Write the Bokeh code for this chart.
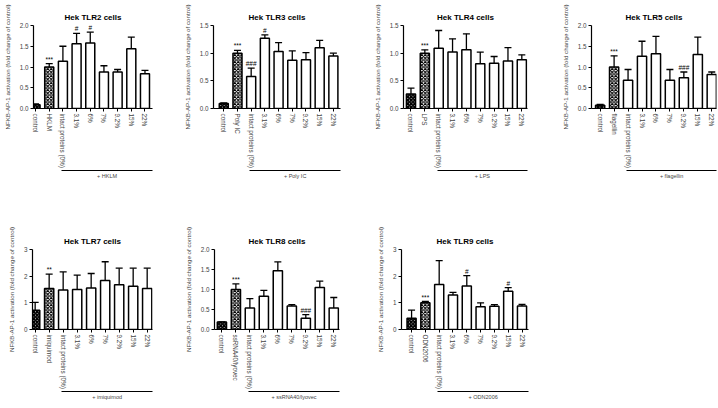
from bokeh.plotting import figure
from bokeh.models import (Range1d, FixedTicker, LinearAxis, Whisker, TeeHead,
                          ColumnDataSource, PrintfTickFormatter)
from bokeh.core.properties import value
from bokeh.layouts import row, column
from bokeh.embed import file_html
from bokeh.resources import INLINE

# ---------------- data ----------------
common_labels = ["intact proteins (0%)", "3.1%", "6%", "7%", "9.2%", "15%", "22%"]
y_label = "NFKB-AP-1 activation (fold change of control)"

tlr2_mean = [0.09, 1.00, 1.14, 1.56, 1.58, 0.88, 0.88, 1.44, 0.84]
tlr2_err = [0.02, 0.08, 0.36, 0.25, 0.26, 0.15, 0.06, 0.28, 0.08]
tlr2_sig = ["", "***", "", "#", "#", "", "", "", ""]

tlr3_mean = [0.09, 1.00, 0.58, 1.27, 1.03, 0.87, 0.88, 1.10, 0.95]
tlr3_err = [0.01, 0.05, 0.15, 0.06, 0.16, 0.17, 0.13, 0.13, 0.05]
tlr3_sig = ["", "***", "###", "#", "", "", "", "", ""]

tlr4_mean = [0.26, 1.00, 1.09, 1.02, 1.06, 0.81, 0.82, 0.86, 0.88]
tlr4_err = [0.11, 0.06, 0.32, 0.24, 0.29, 0.21, 0.12, 0.24, 0.09]
tlr4_sig = ["", "***", "", "", "", "", "", "", ""]

tlr5_mean = [0.08, 1.00, 0.68, 1.26, 1.32, 0.68, 0.74, 1.30, 0.82]
tlr5_err = [0.02, 0.27, 0.26, 0.36, 0.42, 0.26, 0.14, 0.42, 0.06]
tlr5_sig = ["", "***", "", "", "", "", "###", "", ""]

tlr7_mean = [0.72, 1.54, 1.48, 1.50, 1.56, 1.84, 1.68, 1.62, 1.54]
tlr7_err = [0.30, 0.54, 0.68, 0.54, 0.54, 0.70, 0.62, 0.68, 0.76]
tlr7_sig = ["", "**", "", "", "", "", "", "", ""]

tlr8_mean = [0.19, 1.00, 0.54, 0.83, 1.47, 0.59, 0.28, 1.05, 0.54]
tlr8_err = [0.00, 0.14, 0.23, 0.15, 0.22, 0.03, 0.09, 0.16, 0.26]
tlr8_sig = ["", "***", "", "", "", "", "###", "", ""]

tlr9_mean = [0.42, 1.00, 1.69, 1.29, 1.63, 0.85, 0.87, 1.43, 0.88]
tlr9_err = [0.31, 0.05, 0.89, 0.10, 0.39, 0.15, 0.06, 0.14, 0.06]
tlr9_sig = ["", "***", "", "", "#", "", "", "#", ""]

panels = [
    dict(title="Hek TLR2 cells", agonist="HKLM", mean=tlr2_mean, err=tlr2_err, sig=tlr2_sig, ymax=2.0, yticks=[0, 0.5, 1.0, 1.5, 2.0], yfmt="%.1f"),
    dict(title="Hek TLR3 cells", agonist="Poly IC", mean=tlr3_mean, err=tlr3_err, sig=tlr3_sig, ymax=1.5, yticks=[0, 0.5, 1.0, 1.5], yfmt="%.1f"),
    dict(title="Hek TLR4 cells", agonist="LPS", mean=tlr4_mean, err=tlr4_err, sig=tlr4_sig, ymax=1.5, yticks=[0, 0.5, 1.0, 1.5], yfmt="%.1f"),
    dict(title="Hek TLR5 cells", agonist="flagellin", mean=tlr5_mean, err=tlr5_err, sig=tlr5_sig, ymax=2.0, yticks=[0, 0.5, 1.0, 1.5, 2.0], yfmt="%.1f"),
    dict(title="Hek TLR7 cells", agonist="imiquimod", mean=tlr7_mean, err=tlr7_err, sig=tlr7_sig, ymax=3.0, yticks=[0, 1, 2, 3], yfmt="%d"),
    dict(title="Hek TLR8 cells", agonist="ssRNA40/lyovec", mean=tlr8_mean, err=tlr8_err, sig=tlr8_sig, ymax=2.0, yticks=[0, 0.5, 1.0, 1.5, 2.0], yfmt="%.1f"),
    dict(title="Hek TLR9 cells", agonist="ODN2006", mean=tlr9_mean, err=tlr9_err, sig=tlr9_sig, ymax=3.0, yticks=[0, 1, 2, 3], yfmt="%d"),
]

# ---------------- geometry / style ----------------
FONT = "Liberation Sans"
geo = [
    dict(w=180, bl=32, br=28, x0=-0.15, x1=8.55, toff=-8),
    dict(w=180, bl=33, br=20, x0=-0.75, x1=8.52, toff=-5),
    dict(w=180, bl=43, br=13, x0=-0.54, x1=8.41, toff=-5),
    dict(w=178, bl=51, br=2, x0=-0.62, x1=8.34, toff=-4),
    dict(w=180, bl=32, br=28, x0=-0.19, x1=8.38, toff=-6),
    dict(w=180, bl=34, br=21, x0=-0.53, x1=8.41, toff=-5),
    dict(w=180, bl=41, br=12, x0=-0.73, x1=8.47, toff=-4),
]
BRACKET_START = 1.9
BAR_W = 0.66


def make_panel(d, g, height, btop, bbot):
    labels = ["control", d["agonist"]] + common_labels
    xs = list(range(len(labels)))
    p = figure(width=g["w"], height=height,
               x_range=Range1d(g["x0"], g["x1"]), y_range=Range1d(0, d["ymax"]),
               output_backend="svg", toolbar_location=None,
               min_border_left=g["bl"], min_border_right=g["br"],
               min_border_top=btop, min_border_bottom=bbot,
               title=d["title"])
    p.outline_line_color = None
    p.grid.visible = False
    p.background_fill_color = "white"
    p.border_fill_color = "white"

    p.title.text_font = FONT
    p.title.text_font_size = "8px"
    p.title.text_font_style = "bold"
    p.title.align = "center"
    p.title.offset = g["toff"]
    p.title.standoff = 8
    p.title.text_color = "black"

    top = [m + e for m, e in zip(d["mean"], d["err"])]
    src = ColumnDataSource(dict(x=xs, mean=d["mean"], top=top, sig=d["sig"]))

    # plain bars
    plain = ColumnDataSource(dict(x=xs[2:], mean=d["mean"][2:]))
    p.vbar(x="x", top="mean", width=BAR_W, source=plain, fill_color="white",
           line_color="black", line_width=1.5)
    # hatched: control (dense) and agonist
    ctrl = ColumnDataSource(dict(x=xs[0:1], mean=d["mean"][0:1]))
    p.vbar(x="x", top="mean", width=BAR_W, source=ctrl, fill_color="white",
           hatch_pattern="x", hatch_scale=3.5, hatch_weight=2.0, hatch_color="black",
           line_color="black", line_width=1.5)
    ago = ColumnDataSource(dict(x=xs[1:2], mean=d["mean"][1:2]))
    p.vbar(x="x", top="mean", width=BAR_W, source=ago, fill_color="white",
           hatch_pattern="x", hatch_scale=3.5, hatch_weight=1.1, hatch_color="black",
           line_color="black", line_width=1.5)

    wh = Whisker(source=src, base="x", lower="mean", upper="top", dimension="height",
                 line_color="black", line_width=1.3,
                 upper_head=TeeHead(size=7, line_color="black", line_width=1.3),
                 lower_head=None, level="underlay")
    p.add_layout(wh)

    p.text(x="x", y="top", text="sig", source=src, text_align="center",
           text_baseline="bottom", y_offset=-1, text_font_size="6.5px",
           text_font=value(FONT), text_color="black")

    # y axis
    ya = p.yaxis[0]
    ya.ticker = FixedTicker(ticks=d["yticks"])
    ya.formatter = PrintfTickFormatter(format=d["yfmt"])
    ya.axis_label = y_label
    ya.axis_label_text_font = FONT
    ya.axis_label_text_font_size = "6.2px"
    ya.axis_label_text_font_style = "normal"
    ya.axis_label_standoff = 6
    ya.major_label_text_font = FONT
    ya.major_label_text_font_size = "6.3px"
    ya.major_label_standoff = 2
    ya.major_tick_out = 3
    ya.major_tick_in = 0
    ya.minor_tick_out = 0
    ya.minor_tick_in = 0
    ya.axis_line_width = 1.2
    ya.axis_line_color = "black"
    ya.major_tick_line_color = "black"

    # x axis (categories)
    xa = p.xaxis[0]
    xa.ticker = FixedTicker(ticks=xs)
    xa.major_label_overrides = {i: lab for i, lab in zip(xs, labels)}
    xa.major_label_orientation = "vertical"
    xa.major_label_text_font = FONT
    xa.major_label_text_font_size = "6.3px"
    xa.major_label_standoff = 2
    xa.major_tick_out = 3
    xa.major_tick_in = 0
    xa.minor_tick_out = 0
    xa.minor_tick_in = 0
    xa.axis_line_width = 1.2
    xa.axis_line_color = "black"
    xa.major_tick_line_color = "black"

    # bracket "+ agonist" below the treated bars
    c = (BRACKET_START + g["x1"]) / 2.0
    p.extra_x_ranges = {"br": Range1d(g["x0"] - c, g["x1"] - c)}
    ba = LinearAxis(x_range_name="br", ticker=FixedTicker(ticks=[0]),
                    bounds=(BRACKET_START - c, g["x1"] - c))
    ba.major_label_overrides = {0: "+ " + d["agonist"]}
    ba.major_label_text_font = FONT
    ba.major_label_text_font_size = "5.5px"
    ba.major_label_standoff = 2
    ba.major_tick_out = 0
    ba.major_tick_in = 0
    ba.minor_tick_out = 0
    ba.minor_tick_in = 0
    ba.axis_line_width = 1.0
    ba.axis_line_color = "black"
    p.add_layout(ba, "below")
    return p


top_figs = [make_panel(panels[i], geo[i], 187, 25, 79) for i in range(4)]
bot_figs = [make_panel(panels[i], geo[i], 221, 62, 79) for i in range(4, 7)]

layout = column(row(*top_figs), row(*bot_figs))
open("out.html", "w").write(file_html(layout, INLINE))
